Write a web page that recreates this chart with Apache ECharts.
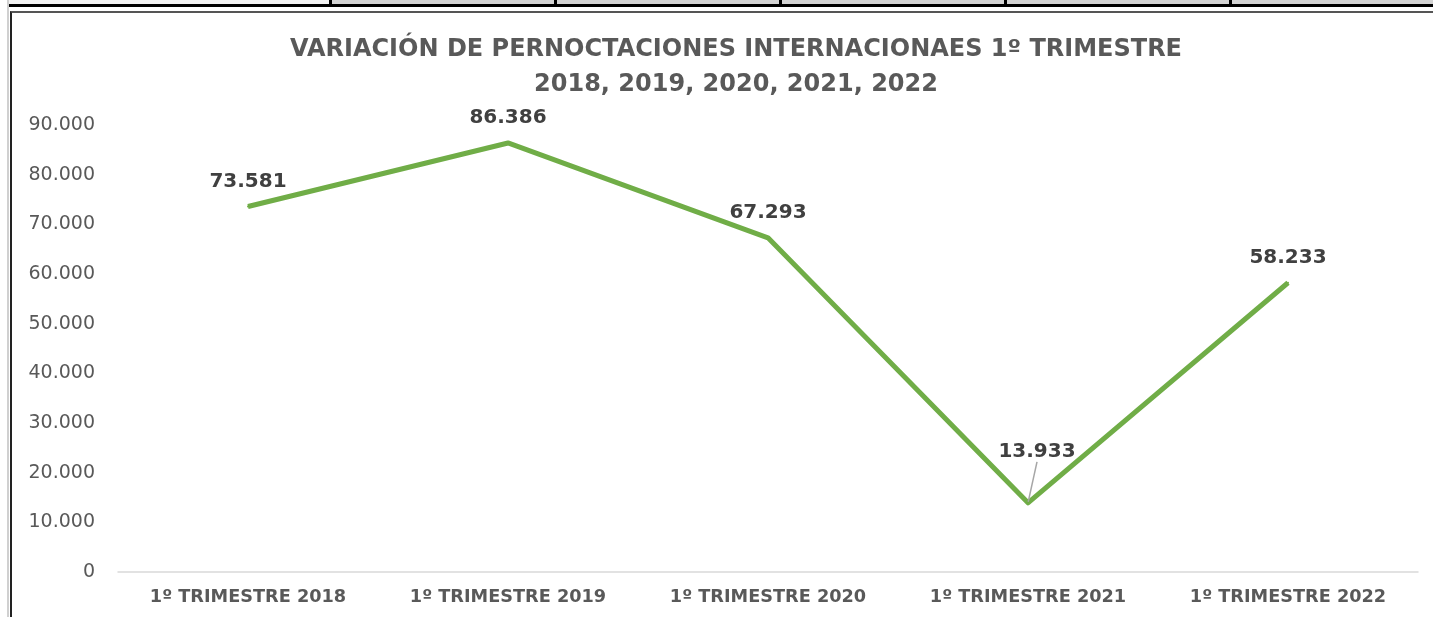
<!DOCTYPE html>
<html>
<head>
<meta charset="utf-8">
<script src="https://cdn.jsdelivr.net/npm/echarts@6/dist/echarts.min.js"></script>
<style>
  html, body { margin: 0; padding: 0; background: #fff; overflow: hidden; }
  .sheet { position: absolute; }
  #chart { position: absolute; left: 0; top: 0; width: 1433px; height: 617px; }
</style>
</head>
<body>
<!-- spreadsheet bits around the chart -->
<div class="sheet" style="left:8px;top:0;width:322px;height:4px;background:#f2f2f2"></div>
<div class="sheet" style="left:330px;top:0;width:1103px;height:4px;background:#d4d4d4"></div>
<div class="sheet" style="left:8px;top:4px;width:1425px;height:3px;background:#000"></div>
<div class="sheet" style="left:7px;top:0;width:2px;height:617px;background:#d0d0d0"></div>
<div id="dividers"></div>
<div class="sheet" style="left:10px;top:11px;width:1430px;height:620px;border-left:2px solid #222;border-top:2px solid #555;box-sizing:border-box"></div>
<div id="chart"></div>

<script>
// datos
const categorias = ['1º TRIMESTRE 2018', '1º TRIMESTRE 2019', '1º TRIMESTRE 2020', '1º TRIMESTRE 2021', '1º TRIMESTRE 2022']
const pernoctaciones = [73581, 86386, 67293, 13933, 58233]
const yTicks = [0, 10000, 20000, 30000, 40000, 50000, 60000, 70000, 80000, 90000]

// separadores negros de la fila superior
const divX = [330, 555, 780, 1005, 1230]
divX.forEach(x => {
  const d = document.createElement('div')
  d.className = 'sheet'
  d.style.cssText = 'left:' + (x - 1) + 'px;top:0;width:3px;height:7px;background:#000'
  document.getElementById('dividers').appendChild(d)
})

const fmt = v => String(v).replace(/\B(?=(\d{3})+(?!\d))/g, '.')

// solo la etiqueta de 2021 va desplazada con línea guía
const puntos = pernoctaciones.map((v, i) => (i === 3
  ? { value: v, labelLine: { show: true } }
  : { value: v, labelLine: { show: false } }))

const chart = echarts.init(document.getElementById('chart'))
const option = {
  backgroundColor: 'transparent',
  animation: false,
  title: {
    text: 'VARIACIÓN DE PERNOCTACIONES INTERNACIONAES 1º TRIMESTRE\n2018, 2019, 2020, 2021, 2022',
    left: 731,
    textAlign: 'center',
    top: 27,
    textStyle: {
      fontFamily: 'DejaVu Sans',
      fontWeight: 'bold',
      fontSize: 24,
      lineHeight: 35,
      color: '#595959'
    }
  },
  grid: { left: 118, right: 15, top: 125, bottom: 45 },
  xAxis: {
    type: 'category',
    data: categorias,
    boundaryGap: true,
    axisLine: { lineStyle: { color: '#d9d9d9', width: 1.5 } },
    axisTick: { show: false },
    axisLabel: {
      margin: 16,
      fontFamily: 'DejaVu Sans',
      fontWeight: 'bold',
      fontSize: 17.7,
      color: '#595959'
    }
  },
  yAxis: {
    type: 'value',
    min: yTicks[0],
    max: yTicks[yTicks.length - 1],
    interval: 10000,
    axisLine: { show: false },
    axisTick: { show: false },
    splitLine: { show: false },
    axisLabel: {
      margin: 23,
      fontFamily: 'DejaVu Sans',
      fontSize: 19,
      color: '#595959',
      formatter: v => fmt(v)
    }
  },
  series: [
    {
      type: 'line',
      data: puntos,
      symbol: 'circle',
      symbolSize: 2,
      itemStyle: { color: '#70ad47' },
      lineStyle: { color: '#70ad47', width: 5, join: 'round' },
      label: {
        show: true,
        position: 'top',
        distance: 14,
        formatter: p => fmt(p.value),
        fontFamily: 'DejaVu Sans',
        fontWeight: 'bold',
        fontSize: 20,
        color: '#404040'
      },
      labelLine: { show: false, lineStyle: { color: '#a6a6a6', width: 1.5 } },
      labelLayout: p => (p.dataIndex === 3 ? { dx: 9, dy: -26 } : {})
    }
  ]
}
chart.setOption(option)
</script>
</body>
</html>
